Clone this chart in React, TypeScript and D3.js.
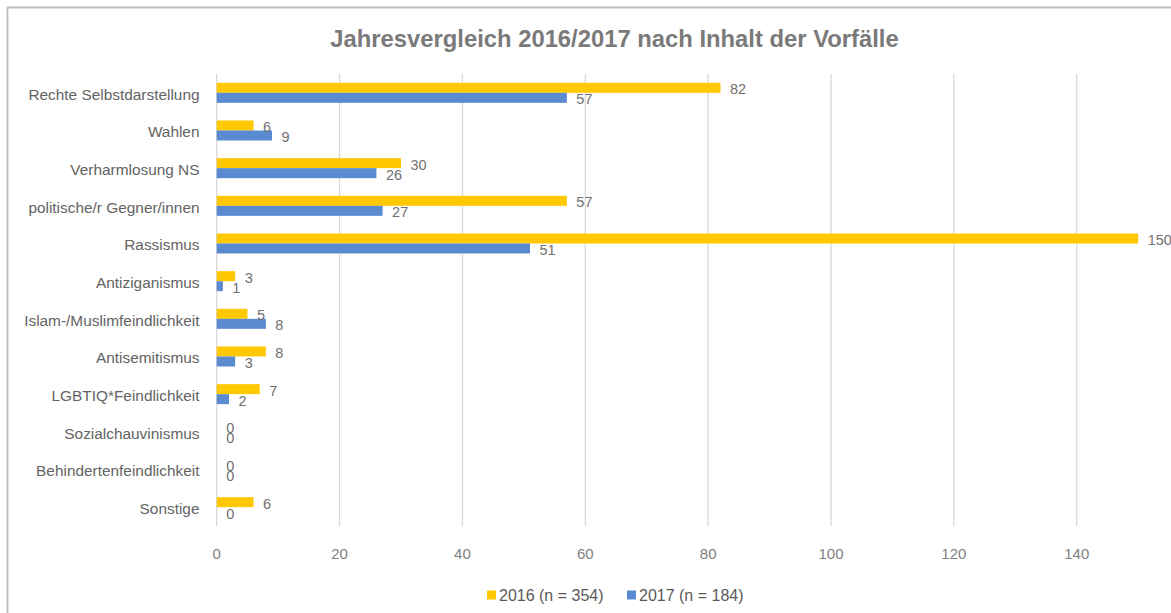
import React from "react";
import * as d3 from "d3";

const categories = [
  "Rechte Selbstdarstellung",
  "Wahlen",
  "Verharmlosung NS",
  "politische/r Gegner/innen",
  "Rassismus",
  "Antiziganismus",
  "Islam-/Muslimfeindlichkeit",
  "Antisemitismus",
  "LGBTIQ*Feindlichkeit",
  "Sozialchauvinismus",
  "Behindertenfeindlichkeit",
  "Sonstige",
];
const values2016 = [82, 6, 30, 57, 150, 3, 5, 8, 7, 0, 0, 6];
const values2017 = [57, 9, 26, 27, 51, 1, 8, 3, 2, 0, 0, 0];
const seriesNames = ["2016 (n = 354)", "2017 (n = 184)"];
const xTicks = [0, 20, 40, 60, 80, 100, 120, 140];
const title = "Jahresvergleich 2016/2017 nach Inhalt der Vorfälle";

const W = 1171;
const H = 613;
const FONT = "'Liberation Sans', Arial, sans-serif";
const COLORS = ["#FFC800", "#5A8BD1"];

export default function App() {
  const x = d3.scaleLinear().domain([0, 160]).range([216.7, 1199.6]);
  const y = d3.scaleBand<string>().domain(categories).range([74, 526]).padding(0);
  const barH = 10;
  const series = [values2016, values2017];

  const legendX = [487, 627];

  return (
    <div style={{ position: "absolute", left: 0, top: 0 }}>
      <svg width={W} height={H} style={{ display: "block", fontFamily: FONT }}>
        <rect x={0} y={0} width={W} height={H} fill="#ffffff" />
        {/* chart border */}
        <line x1={7.5} y1={7} x2={7.5} y2={H} stroke="#bdbdbd" strokeWidth={1.8} />
        <line x1={7} y1={7.5} x2={W} y2={7.5} stroke="#bdbdbd" strokeWidth={1.8} />

        <text
          x={614.5}
          y={46.7}
          textAnchor="middle"
          fontSize={23.8}
          fontWeight="bold"
          fill="#7a7a7a"
        >
          {title}
        </text>

        {/* gridlines */}
        {xTicks.map((t) => (
          <line
            key={"g" + t}
            x1={x(t)}
            x2={x(t)}
            y1={74}
            y2={526}
            stroke="#d9d9d9"
            strokeWidth={1.3}
          />
        ))}

        {/* tick labels */}
        {xTicks.map((t) => (
          <text
            key={"t" + t}
            x={x(t)}
            y={558.7}
            textAnchor="middle"
            fontSize={15}
            fill="#808080"
          >
            {t}
          </text>
        ))}

        {/* category labels */}
        {categories.map((c) => (
          <text
            key={"c" + c}
            x={199.5}
            y={(y(c) as number) + y.bandwidth() / 2 + 6.8}
            textAnchor="end"
            fontSize={15.4}
            fill="#636363"
          >
            {c}
          </text>
        ))}

        {/* bars */}
        {series.map((vals, si) =>
          categories.map((c, i) => {
            const cy = (y(c) as number) + y.bandwidth() / 2;
            const top = cy - barH + si * barH;
            return (
              <rect
                key={"b" + si + "-" + i}
                x={x(0)}
                y={top}
                width={Math.max(0, x(vals[i]) - x(0))}
                height={barH}
                fill={COLORS[si]}
              />
            );
          })
        )}

        {/* value labels */}
        {series.map((vals, si) =>
          categories.map((c, i) => {
            const cy = (y(c) as number) + y.bandwidth() / 2;
            const barCenter = cy - barH / 2 + si * barH;
            return (
              <text
                key={"v" + si + "-" + i}
                x={x(vals[i]) + 9.5}
                y={barCenter + 6.6}
                fontSize={14.5}
                fill="#707070"
              >
                {vals[i]}
              </text>
            );
          })
        )}

        {/* legend */}
        {seriesNames.map((n, i) => (
          <g key={"l" + i}>
            <rect x={legendX[i]} y={590.5} width={9} height={9} fill={COLORS[i]} />
            <text x={legendX[i] + 12} y={600.8} fontSize={16} fill="#595959">
              {n}
            </text>
          </g>
        ))}
      </svg>
    </div>
  );
}
